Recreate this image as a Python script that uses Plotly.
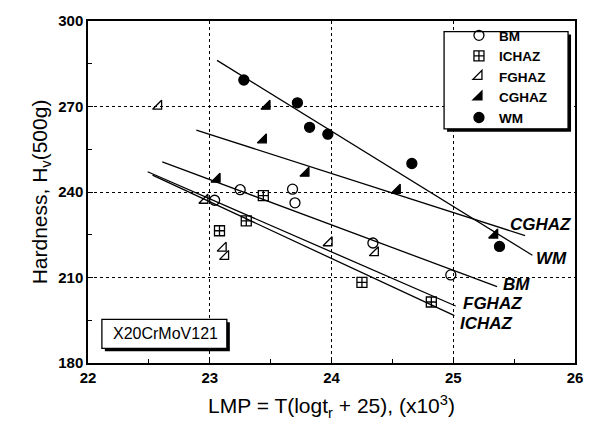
import plotly.graph_objects as go

# ---- data ----
bm_x = [23.04, 23.25, 23.68, 23.70, 24.34, 24.98]
bm_y = [237.1, 240.8, 241.0, 236.2, 222.1, 210.9]

ichaz_x = [23.08, 23.30, 23.44, 24.25, 24.82]
ichaz_y = [226.4, 229.9, 238.7, 208.3, 201.4]

fghaz_x = [22.58, 22.96, 23.11, 23.13, 23.98, 24.36]
fghaz_y = [270.1, 237.1, 220.3, 217.4, 222.2, 218.7]

cghaz_x = [23.06, 23.44, 23.47, 23.79, 24.54, 25.34]
cghaz_y = [244.5, 258.3, 270.1, 246.6, 240.6, 224.9]

wm_x = [23.28, 23.72, 23.82, 23.97, 24.66, 25.38]
wm_y = [279.3, 271.3, 262.7, 260.3, 250.0, 220.9]

# regression line end points
fit_bm_x = [22.61, 25.36]
fit_bm_y = [250.6, 206.8]
fit_ichaz_x = [22.53, 25.01]
fit_ichaz_y = [245.9, 196.6]
fit_fghaz_x = [22.49, 25.02]
fit_fghaz_y = [247.1, 200.0]
fit_cghaz_x = [22.89, 25.59]
fit_cghaz_y = [261.7, 224.7]
fit_wm_x = [23.06, 25.65]
fit_wm_y = [286.2, 217.8]

x_ticks = [22, 23, 24, 25, 26]
y_ticks = [180, 210, 240, 270, 300]

FONT = "Arial, Liberation Sans, sans-serif"

W, H = 595, 426
L, R, T, B = 88, 16, 13, 61
PW, PH = W - L - R, H - T - B


def px(xp):
    return (xp - L) / PW


def py(yp):
    return 1 - (yp - T) / PH


fig = go.Figure()

series = [
    ("BM", bm_x, bm_y, "circle-open"),
    ("ICHAZ", ichaz_x, ichaz_y, "square-cross-open"),
    ("FGHAZ", fghaz_x, fghaz_y, "triangle-se-open"),
    ("CGHAZ", cghaz_x, cghaz_y, "triangle-se"),
    ("WM", wm_x, wm_y, "circle"),
]

fits = [
    (fit_bm_x, fit_bm_y),
    (fit_ichaz_x, fit_ichaz_y),
    (fit_fghaz_x, fit_fghaz_y),
    (fit_cghaz_x, fit_cghaz_y),
    (fit_wm_x, fit_wm_y),
]

for fx, fy in fits:
    fig.add_trace(go.Scatter(x=fx, y=fy, mode="lines", showlegend=False,
                             hoverinfo="skip",
                             line=dict(color="black", width=1.3)))

for name, xs, ys, sym in series:
    fig.add_trace(go.Scatter(
        x=xs, y=ys, mode="markers", name=name,
        marker=dict(symbol=sym, size=10, color="black",
                    line=dict(color="black", width=1.3)),
    ))

# line labels
label_pos = {
    "CGHAZ": (25.45, 228.5),
    "WM": (25.66, 216.7),
    "BM": (25.39, 207.6),
    "FGHAZ": (25.06, 201.0),
    "ICHAZ": (25.04, 193.8),
}
for name, (lx, ly) in label_pos.items():
    fig.add_annotation(x=lx, y=ly, text="<b><i>%s</i></b>" % name, showarrow=False,
                       xanchor="left", yanchor="middle",
                       font=dict(family=FONT, size=17, color="black"))

shapes = []
# legend box with shadow
shapes.append(dict(type="rect", xref="paper", yref="paper", layer="above",
                   x0=px(450), x1=px(575), y0=py(127), y1=py(27),
                   fillcolor="black", line=dict(width=0)))
shapes.append(dict(type="rect", xref="paper", yref="paper", layer="above",
                   x0=px(447), x1=px(572), y0=py(124), y1=py(24),
                   fillcolor="white", line=dict(color="black", width=1.3)))
# material label box with shadow
shapes.append(dict(type="rect", xref="paper", yref="paper", layer="above",
                   x0=px(105), x1=px(231), y0=py(353), y1=py(323),
                   fillcolor="black", line=dict(width=0)))
shapes.append(dict(type="rect", xref="paper", yref="paper", layer="above",
                   x0=px(102), x1=px(228), y0=py(350), y1=py(320),
                   fillcolor="white", line=dict(color="black", width=1.3)))
fig.update_layout(shapes=shapes)

fig.add_annotation(xref="paper", yref="paper", x=px(166), y=py(335),
                   xanchor="center", yanchor="middle",
                   text="X20CrMoV121", showarrow=False,
                   font=dict(family=FONT, size=16, color="black"))

axis_common = dict(
    showline=True, linecolor="black", linewidth=1.5, mirror=True,
    ticks="inside", ticklen=5, tickcolor="black", tickwidth=1,
    showgrid=True, gridcolor="black", gridwidth=1, griddash="dot",
    zeroline=False,
    tickfont=dict(family=FONT, size=15, color="black", weight="bold"),
)

fig.update_xaxes(
    range=[22, 26], tickvals=x_ticks, ticktext=[str(v) for v in x_ticks],
    minor=dict(ticks="inside", ticklen=4, dtick=0.5, tickcolor="black", showgrid=False),
    title=dict(text="LMP = T(logt<sub>r</sub> + 25), (x10<sup>3</sup>)",
               font=dict(family=FONT, size=21, color="black"), standoff=14),
    **axis_common,
)
fig.update_yaxes(
    range=[180, 300], tickvals=y_ticks, ticktext=[str(v) for v in y_ticks],
    minor=dict(ticks="inside", ticklen=4, dtick=15, tickcolor="black", showgrid=False),
    title=dict(text="Hardness, H<sub>v</sub>(500g)",
               font=dict(family=FONT, size=21, color="black"), standoff=5),
    **axis_common,
)

fig.update_layout(
    width=W, height=H,
    margin=dict(l=L, r=R, t=T, b=B),
    plot_bgcolor="white", paper_bgcolor="white",
    font=dict(family=FONT, color="black"),
    legend=dict(x=px(462), y=py(12), xanchor="left", yanchor="top",
                bgcolor="rgba(0,0,0,0)", borderwidth=0,
                font=dict(family=FONT, size=13.5, color="black", weight="bold"),
                itemwidth=30, tracegroupgap=0),
)

fig.write_html("out.html", config={"displayModeBar": False},
               post_script="document.body.style.margin='0';"
                           "document.body.style.overflow='hidden';")
